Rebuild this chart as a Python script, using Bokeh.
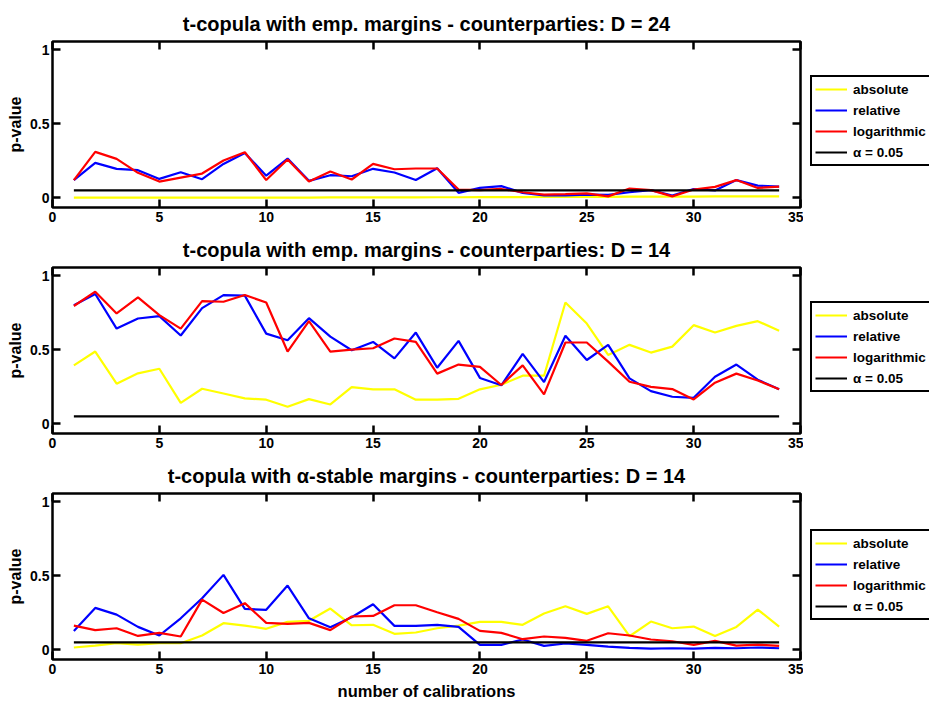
from bokeh.plotting import figure
from bokeh.layouts import column, row
from bokeh.models import (Legend, LegendItem, LinearAxis, FixedTicker,
                          PrintfTickFormatter, Range1d)
from bokeh.embed import file_html
from bokeh.resources import INLINE

calibrations = list(range(1, 35))
alpha_level = 0.05

# Panel 1: t-copula with emp. margins, D = 24
abs1 = [0.002, 0.002, 0.002, 0.002, 0.002, 0.002, 0.002, 0.002, 0.002, 0.002,
        0.002, 0.002, 0.003, 0.003, 0.003, 0.003, 0.003, 0.004, 0.004, 0.005,
        0.005, 0.005, 0.006, 0.006, 0.007, 0.007, 0.008, 0.008, 0.009, 0.009,
        0.010, 0.010, 0.010, 0.010]
rel1 = [0.12, 0.236, 0.196, 0.187, 0.128, 0.173, 0.126, 0.229, 0.303, 0.15,
        0.265, 0.115, 0.153, 0.146, 0.196, 0.171, 0.12, 0.2, 0.034, 0.067,
        0.079, 0.034, 0.016, 0.016, 0.022, 0.02, 0.038, 0.052, 0.016, 0.06,
        0.05, 0.12, 0.083, 0.076]
log1 = [0.12, 0.31, 0.263, 0.169, 0.11, 0.137, 0.164, 0.252, 0.308, 0.12,
        0.259, 0.11, 0.178, 0.124, 0.229, 0.193, 0.198, 0.198, 0.056, 0.052,
        0.06, 0.038, 0.022, 0.025, 0.03, 0.01, 0.063, 0.052, 0.01, 0.056,
        0.074, 0.12, 0.067, 0.076]

# Panel 2: t-copula with emp. margins, D = 14
abs2 = [0.395, 0.488, 0.271, 0.341, 0.372, 0.142, 0.237, 0.205, 0.172, 0.163,
        0.115, 0.167, 0.131, 0.248, 0.233, 0.233, 0.163, 0.163, 0.169, 0.233,
        0.264, 0.325, 0.325, 0.819, 0.677, 0.465, 0.533, 0.481, 0.521, 0.666,
        0.616, 0.661, 0.693, 0.628]
rel2 = [0.80, 0.876, 0.643, 0.711, 0.727, 0.596, 0.781, 0.869, 0.865, 0.609,
        0.564, 0.713, 0.589, 0.497, 0.553, 0.442, 0.616, 0.379, 0.56, 0.31,
        0.26, 0.472, 0.282, 0.594, 0.431, 0.533, 0.307, 0.221, 0.183, 0.176,
        0.318, 0.40, 0.298, 0.233]
log2 = [0.795, 0.892, 0.745, 0.853, 0.734, 0.643, 0.828, 0.824, 0.869, 0.819,
        0.488, 0.693, 0.488, 0.501, 0.51, 0.576, 0.553, 0.339, 0.40, 0.384,
        0.262, 0.395, 0.199, 0.549, 0.549, 0.42, 0.284, 0.25, 0.235, 0.165,
        0.278, 0.339, 0.293, 0.233]

# Panel 3: t-copula with alpha-stable margins, D = 14
abs3 = [0.016, 0.029, 0.045, 0.036, 0.045, 0.045, 0.097, 0.18, 0.164, 0.142,
        0.189, 0.196, 0.279, 0.166, 0.169, 0.108, 0.117, 0.146, 0.164, 0.189,
        0.189, 0.169, 0.245, 0.294, 0.243, 0.294, 0.092, 0.191, 0.146, 0.157,
        0.094, 0.155, 0.272, 0.157]
rel3 = [0.128, 0.283, 0.238, 0.155, 0.097, 0.213, 0.348, 0.506, 0.276, 0.27,
        0.434, 0.213, 0.153, 0.22, 0.308, 0.162, 0.162, 0.169, 0.155, 0.034,
        0.034, 0.07, 0.027, 0.043, 0.034, 0.022, 0.013, 0.009, 0.011, 0.009,
        0.013, 0.011, 0.016, 0.011]
log3 = [0.164, 0.133, 0.146, 0.094, 0.115, 0.09, 0.339, 0.249, 0.315, 0.182,
        0.175, 0.182, 0.133, 0.225, 0.229, 0.301, 0.301, 0.254, 0.209, 0.128,
        0.115, 0.072, 0.09, 0.081, 0.061, 0.112, 0.097, 0.07, 0.058, 0.034,
        0.061, 0.029, 0.036, 0.027]

titles = ["t-copula with emp. margins - counterparties: D = 24",
          "t-copula with emp. margins - counterparties: D = 14",
          "t-copula with \u03b1-stable margins - counterparties: D = 14"]
series_names = ["absolute", "relative", "logarithmic", "\u03b1 = 0.05"]
series_colors = ["#FFFF00", "#0000FF", "#FF0000", "#000000"]
x_ticks = [0, 5, 10, 15, 20, 25, 30, 35]
y_ticks = [0, 0.5, 1]

FONT = "Liberation Sans"
TOPS = [41, 37, 37]
BOTTOMS = [22, 22, 46]
HEIGHTS = [229, 225, 249]
LEGEND_BOTTOM = [41, 40, 38]


def make_panel(title, absv, relv, logv, idx):
    last = idx == 2
    p = figure(frame_width=748, frame_height=166, x_range=Range1d(0, 35),
               y_range=Range1d(-0.065, 1.055), output_backend="svg",
               toolbar_location=None, min_border_left=52, min_border_right=3,
               min_border_top=TOPS[idx], min_border_bottom=BOTTOMS[idx])
    p.title.text = title
    p.title.align = "center"
    p.title.text_font = FONT
    p.title.text_font_style = "bold"
    p.title.text_font_size = "20px"
    p.title.text_color = "black"
    p.title.standoff = 14
    p.xgrid.grid_line_color = None
    p.ygrid.grid_line_color = None
    p.outline_line_color = "black"
    p.outline_line_width = 2.5
    p.outline_line_alpha = 1

    for ax in p.xaxis:
        ax.ticker = FixedTicker(ticks=x_ticks)
    for ax in p.yaxis:
        ax.ticker = FixedTicker(ticks=y_ticks)
        ax.formatter = PrintfTickFormatter(format="%g")
    for ax in list(p.xaxis) + list(p.yaxis):
        ax.axis_line_color = None
        ax.major_tick_in = 8
        ax.major_tick_out = 0
        ax.major_tick_line_width = 2.5
        ax.major_tick_line_color = "black"
        ax.minor_tick_line_color = None
        ax.major_label_text_font = FONT
        ax.major_label_text_font_style = "bold"
        ax.major_label_text_font_size = "14px"
        ax.major_label_text_color = "black"
        ax.axis_label_text_color = "black"
    p.xaxis.major_label_standoff = 4
    p.yaxis.major_label_standoff = 3
    p.yaxis.axis_label = "p-value"
    p.yaxis.axis_label_text_font = FONT
    p.yaxis.axis_label_text_font_style = "bold"
    p.yaxis.axis_label_text_font_size = "16px"
    p.yaxis.axis_label_standoff = 3
    if last:
        p.xaxis.axis_label = "number of calibrations"
        p.xaxis.axis_label_text_font = FONT
        p.xaxis.axis_label_text_font_style = "bold"
        p.xaxis.axis_label_text_font_size = "16.5px"
        p.xaxis.axis_label_standoff = 5

    top = LinearAxis(ticker=FixedTicker(ticks=x_ticks))
    right = LinearAxis(ticker=FixedTicker(ticks=y_ticks))
    for ax in (top, right):
        ax.axis_line_color = None
        ax.major_tick_in = 8
        ax.major_tick_out = 0
        ax.major_tick_line_width = 2.5
        ax.major_tick_line_color = "black"
        ax.minor_tick_line_color = None
        ax.major_label_text_font_size = "1px"
        ax.major_label_text_color = None
        ax.major_label_standoff = 0
    p.add_layout(top, "above")
    p.add_layout(right, "right")

    series = [absv, relv, logv, [alpha_level] * len(calibrations)]
    for vals, col in zip(series, series_colors):
        p.line(calibrations, vals, line_color=col, line_width=2.2)

    # legend panel to the right of the axes box
    lf = figure(width=126, height=HEIGHTS[idx], x_range=Range1d(0, 1),
                y_range=Range1d(0, 1), output_backend="svg",
                toolbar_location=None, x_axis_location=None,
                y_axis_location=None, min_border=0)
    lf.outline_line_color = None
    lf.xgrid.grid_line_color = None
    lf.ygrid.grid_line_color = None
    items = []
    for vals, name, col in zip(series, series_names, series_colors):
        # single-point proxy: carries the style for the legend, draws nothing
        proxy = lf.line(x=calibrations[:1], y=vals[:1], line_color=col,
                        line_width=2.2)
        items.append(LegendItem(label=name, renderers=[proxy]))
    legend = Legend(items=items, location=(7, LEGEND_BOTTOM[idx]))
    legend.border_line_color = "black"
    legend.border_line_width = 2
    legend.border_line_alpha = 1
    legend.background_fill_color = "white"
    legend.background_fill_alpha = 1
    legend.label_text_font = FONT
    legend.label_text_font_style = "bold"
    legend.label_text_font_size = "13.5px"
    legend.label_text_color = "black"
    legend.glyph_width = 32
    legend.glyph_height = 18
    legend.label_height = 18
    legend.label_standoff = 6
    legend.spacing = 3
    legend.padding = 3
    legend.margin = 0
    lf.add_layout(legend)
    return row(p, lf, spacing=0)


panels = [make_panel(titles[i], a, r, l, i)
          for i, (a, r, l) in enumerate([(abs1, rel1, log1),
                                         (abs2, rel2, log2),
                                         (abs3, rel3, log3)])]

layout = column(*panels, spacing=0)
open("out.html", "w").write(file_html(layout, INLINE))
